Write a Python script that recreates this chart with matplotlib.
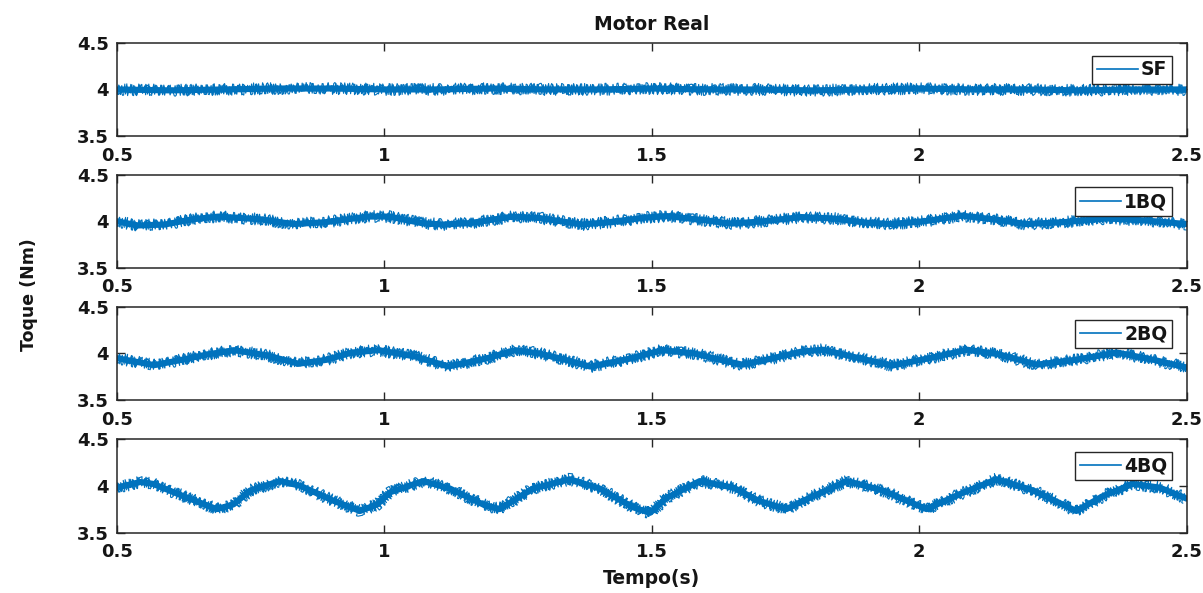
import matplotlib
matplotlib.use("Agg")
import matplotlib.pyplot as plt
from matplotlib.lines import Line2D

# ---------------- data ----------------
labels = ["SF", "1BQ", "2BQ", "4BQ"]

t_sf = [0.50, 0.60, 0.70, 0.80, 0.90, 1.00, 1.10, 1.20, 1.30, 1.40, 1.50,
        1.60, 1.70, 1.80, 1.90, 2.00, 2.10, 2.20, 2.30, 2.40, 2.50]
v_sf = [4.00, 3.99, 4.00, 4.01, 4.01, 4.00, 4.00, 4.01, 4.00, 4.00, 4.01,
        4.00, 4.00, 3.99, 4.00, 4.01, 4.00, 4.00, 3.99, 4.00, 4.00]

t_1bq = [0.50, 0.54, 0.59, 0.64, 0.69, 0.77, 0.83, 0.89, 0.97, 1.01, 1.07,
         1.11, 1.16, 1.24, 1.29, 1.37, 1.42, 1.49, 1.53, 1.60, 1.65, 1.71,
         1.78, 1.84, 1.90, 1.95, 2.01, 2.08, 2.14, 2.20, 2.27, 2.35, 2.42, 2.50]
v_1bq = [4.00, 3.955, 3.965, 4.02, 4.05, 4.02, 3.97, 3.99, 4.05, 4.05, 3.98,
         3.965, 3.98, 4.05, 4.035, 3.965, 3.99, 4.04, 4.055, 4.01, 3.975, 4.00,
         4.045, 4.03, 3.985, 3.97, 4.00, 4.06, 4.02, 3.97, 3.99, 4.03, 4.01, 3.97]

t_2bq = [0.50, 0.57, 0.62, 0.67, 0.72, 0.78, 0.84, 0.89, 0.94, 0.99, 1.06,
         1.12, 1.19, 1.245, 1.29, 1.34, 1.385, 1.46, 1.52, 1.58, 1.63, 1.67,
         1.72, 1.78, 1.82, 1.88, 1.95, 2.02, 2.09, 2.15, 2.22, 2.29, 2.37,
         2.44, 2.50]
v_2bq = [3.95, 3.875, 3.93, 3.99, 4.035, 3.98, 3.89, 3.93, 4.01, 4.035, 3.965,
         3.86, 3.945, 4.035, 4.00, 3.93, 3.86, 3.945, 4.035, 4.00, 3.93, 3.88,
         3.94, 4.02, 4.04, 3.96, 3.87, 3.95, 4.04, 3.99, 3.88, 3.93, 4.01,
         3.93, 3.85]

t_4bq = [0.50, 0.544, 0.568, 0.624, 0.687, 0.718, 0.75, 0.805, 0.843, 0.905,
         0.955, 0.987, 1.011, 1.073, 1.123, 1.185, 1.216, 1.278, 1.347, 1.403,
         1.465, 1.497, 1.528, 1.59, 1.653, 1.70, 1.752, 1.795, 1.865, 1.932,
         2.014, 2.076, 2.145, 2.213, 2.294, 2.344, 2.40, 2.45, 2.497]
v_4bq = [3.98, 4.04, 4.02, 3.89, 3.75, 3.80, 3.95, 4.05, 4.00, 3.84,
         3.73, 3.80, 3.93, 4.05, 3.97, 3.80, 3.75, 3.97, 4.07, 3.97,
         3.77, 3.71, 3.87, 4.05, 3.98, 3.84, 3.75, 3.87, 4.05, 3.95,
         3.75, 3.91, 4.07, 3.95, 3.73, 3.89, 4.02, 3.98, 3.87]

series_t = [t_sf, t_1bq, t_2bq, t_4bq]
series_v = [v_sf, v_1bq, v_2bq, v_4bq]

x_ticks = [0.5, 1, 1.5, 2, 2.5]
x_ticklabels = ["0.5", "1", "1.5", "2", "2.5"]
y_ticks = [3.5, 4, 4.5]
y_ticklabels = ["3.5", "4", "4.5"]

title = "Motor Real"
xlabel = "Tempo(s)"
ylabel = "Toque (Nm)"

# ---------------- style ----------------
plt.rcParams['font.family'] = ['DejaVu Sans']
plt.rcParams['font.weight'] = 'bold'
LINE = "#0072BD"
FRAME = "#262626"
TXT = "#151515"

W, H = 1203, 593
fig = plt.figure(figsize=(W / 100, H / 100), dpi=100)

left_px, right_px = 116.7, 1186.5
tops_px = [42.7, 174.5, 306.7, 439.0]
h_px = 93.5

for i in range(4):
    top = tops_px[i]
    ax = fig.add_axes([left_px / W, 1 - (top + h_px) / H,
                       (right_px - left_px) / W, h_px / H])
    t, v = series_t[i], series_v[i]
    ax.plot(t, v, color=LINE, lw=4.4, solid_joinstyle='round', zorder=2)
    fuzz1, = ax.plot(t, v, color=LINE, lw=0.9, zorder=2)
    fuzz1.set_sketch_params(scale=5.0, length=1.0, randomness=3.5)
    fuzz2, = ax.plot(t, v, color=LINE, lw=0.8, zorder=2)
    fuzz2.set_sketch_params(scale=6.0, length=2.6, randomness=6.0)

    ax.set_xlim(0.5, 2.5)
    ax.set_ylim(3.5, 4.5)
    ax.set_xticks(x_ticks)
    ax.set_xticklabels(x_ticklabels)
    ax.set_yticks(y_ticks)
    ax.set_yticklabels(y_ticklabels)
    ax.tick_params(direction='in', length=6, width=1.0, color=FRAME,
                   top=True, right=True, labelsize=13, labelcolor=TXT)
    ax.tick_params(axis='x', pad=7.5)
    ax.tick_params(axis='y', pad=5.5)
    for lab in ax.get_xticklabels() + ax.get_yticklabels():
        lab.set_fontweight('bold')
    for sp in ax.spines.values():
        sp.set_color(FRAME)
        sp.set_linewidth(1.1)

    handle = Line2D([], [], color=LINE, lw=1.2)
    leg = ax.legend([handle], [labels[i]], loc='upper right',
                    bbox_to_anchor=(0.9865, 0.862), borderaxespad=0,
                    fancybox=False, framealpha=1, edgecolor=FRAME,
                    handlelength=2.2, handletextpad=0.15, borderpad=0.25,
                    prop={'weight': 'bold', 'size': 13.5})
    leg.get_frame().set_linewidth(1.0)
    for txt in leg.get_texts():
        txt.set_color(TXT)

fig.text(651.6 / W, 1 - 25 / H, title, ha='center', va='center',
         fontsize=13.5, fontweight='bold', color=TXT)
fig.text(651.6 / W, 1 - 579 / H, xlabel, ha='center', va='center',
         fontsize=13.5, fontweight='bold', color=TXT)
fig.text(29 / W, 1 - 295 / H, ylabel, ha='center', va='center',
         rotation=90, fontsize=12.5, fontweight='bold', color=TXT)

fig.savefig("out.png", dpi=100, facecolor='white')
